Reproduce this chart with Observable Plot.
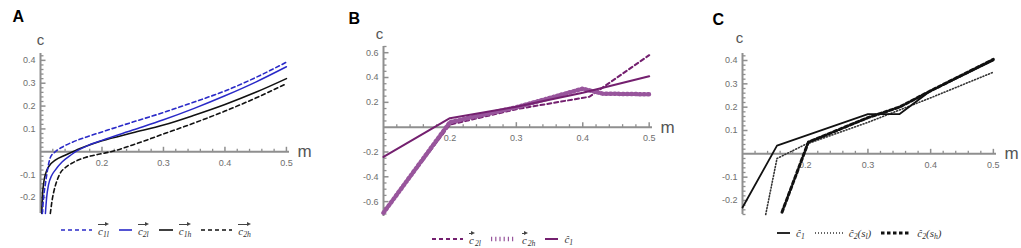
<!DOCTYPE html>
<html><head><meta charset="utf-8">
<script src="https://cdn.jsdelivr.net/npm/d3@7"></script>
<script src="https://cdn.jsdelivr.net/npm/@observablehq/plot@0.6"></script>
<style>
body{margin:0;background:#fff;width:1021px;height:248px;overflow:hidden;font-family:"Liberation Sans",Arial,sans-serif;position:relative}
.panel{position:absolute;top:0;height:220px;width:341px}
.legend{position:absolute;display:flex;align-items:center;height:14px;font-family:"Liberation Serif",serif;font-size:11px;color:#333;white-space:nowrap}
.legend svg{display:block}
.legend .lab{margin:0 10px 0 6px;font-style:italic}
.legend sub{font-size:70%;vertical-align:-2px;line-height:0}
.vec{position:relative;display:inline-block;padding-top:2px}
.vec::before{content:"";position:absolute;left:0;right:2px;top:1px;border-top:1px solid #444}
.vec::after{content:"";position:absolute;right:0;top:-1px;border-left:4px solid #444;border-top:2.5px solid transparent;border-bottom:2.5px solid transparent}
</style>
</head><body>
<div id="pA" class="panel" style="left:0"></div>
<div id="pB" class="panel" style="left:340px"></div>
<div id="pC" class="panel" style="left:680px"></div>
<div id="legA" class="legend" style="left:61px;top:223px"></div>
<div id="legB" class="legend" style="left:432px;top:232px"></div>
<div id="legC" class="legend" style="left:777px;top:226px"></div>
<script>
// ---------- Panel A data ----------
const mA_c1l = [0.103,0.105,0.108,0.112,0.116,0.124,0.135,0.15,0.175,0.2,0.25,0.3,0.35,0.4,0.45,0.5];
const cA_c1l = [-0.27,-0.2,-0.14,-0.07,-0.025,0.0,0.02,0.04,0.065,0.087,0.13,0.172,0.218,0.266,0.325,0.392];
const mA_c2l = [0.108,0.11,0.113,0.118,0.124,0.135,0.15,0.16,0.175,0.2,0.25,0.3,0.35,0.4,0.45,0.5];
const cA_c2l = [-0.27,-0.2,-0.145,-0.105,-0.08,-0.045,-0.013,0.005,0.025,0.05,0.095,0.14,0.19,0.245,0.305,0.372];
const mA_c1h = [0.102,0.103,0.105,0.109,0.113,0.124,0.14,0.157,0.175,0.2,0.25,0.3,0.35,0.4,0.45,0.5];
const cA_c1h = [-0.27,-0.2,-0.14,-0.09,-0.066,-0.037,-0.015,0.006,0.025,0.048,0.083,0.117,0.16,0.207,0.26,0.32];
const mA_c2h = [0.116,0.119,0.122,0.127,0.132,0.14,0.151,0.173,0.2,0.214,0.25,0.3,0.35,0.4,0.45,0.5];
const cA_c2h = [-0.27,-0.21,-0.17,-0.125,-0.094,-0.07,-0.05,-0.025,-0.008,0.0,0.03,0.078,0.126,0.178,0.235,0.298];
// ---------- Panel B data ----------
const mB_c2l = [0.1,0.2,0.3,0.41,0.5];
const cB_c2l = [-0.69,0.02,0.145,0.245,0.58];
const mB_c2h = [0.1,0.2,0.3,0.4,0.43,0.5];
const cB_c2h = [-0.69,0.04,0.16,0.31,0.27,0.265];
const mB_c1 = [0.1,0.2,0.3,0.4,0.5];
const cB_c1 = [-0.24,0.072,0.165,0.278,0.41];
// ---------- Panel C data ----------
const mC_c1 = [0.1,0.155,0.3,0.35,0.4,0.5];
const cC_c1 = [-0.23,0.035,0.17,0.17,0.27,0.4];
const mC_c2sl = [0.137,0.155,0.2,0.3,0.4,0.5];
const cC_c2sl = [-0.26,-0.02,0.04,0.135,0.24,0.35];
const mC_c2sh = [0.163,0.205,0.3,0.35,0.4,0.5];
const cC_c2sh = [-0.25,0.05,0.155,0.2,0.27,0.405];
// ---------- tick labels ----------
const xMajor = [0.2,0.3,0.4,0.5];
const yMajorA = [-0.2,-0.1,0.1,0.2,0.3,0.4];
const yMajorB = [-0.6,-0.4,-0.2,0.2,0.4,0.6];
const yMajorC = [-0.2,-0.1,0.1,0.2,0.3,0.4];

const axisColor = "#8f8f8f", labelColor = "#6e6e6e";
const blue = "#2a2ac8", black = "#111111", purple = "#74206f", purpleLight = "#98559c";

const xMinor = d3.range(6, 26).filter(i => i % 5 !== 0).map(i => i * 0.02);
const yMinor02 = d3.range(-13, 22).filter(i => i % 5 !== 0).map(i => i * 0.02);
const yMinorB = d3.range(-14, 14).filter(i => i % 4 !== 0).map(i => i * 0.05);

const tickUp = {draw(ctx, size){const l = Math.sqrt(size/Math.PI); ctx.moveTo(0,0); ctx.lineTo(0,-l);}};
const tickRight = {draw(ctx, size){const l = Math.sqrt(size/Math.PI); ctx.moveTo(0,0); ctx.lineTo(l,0);}};
const rows = (m, c) => m.map((v, i) => ({m: v, c: c[i]}));
const fmt = d => d.toFixed(1);

function makePanel(o) {
  const x0 = o.xDomain[0];
  const ax = {stroke: axisColor};
  return Plot.plot({
    width: o.width, height: 220,
    marginLeft: o.ml, marginRight: o.mr, marginTop: o.mt, marginBottom: o.mb,
    x: {domain: o.xDomain, axis: null},
    y: {domain: o.yDomain, axis: null},
    style: {fontFamily: "'Liberation Sans', Arial, sans-serif", maxWidth: "none"},
    marks: [
      Plot.ruleY([0], {y: d => d, ...ax, strokeWidth: 2}),
      Plot.ruleX([x0], {x: d => d, ...ax, strokeWidth: 2}),
      Plot.dot(xMinor, {x: d => d, y: 0, symbol: tickUp, r: 3, ...ax, fill: "none", strokeWidth: 1.3}),
      Plot.dot(xMajor, {x: d => d, y: 0, symbol: tickUp, r: 5, ...ax, fill: "none", strokeWidth: 1.5}),
      Plot.dot(o.yMinor, {x: x0, y: d => d, symbol: tickRight, r: 3, ...ax, fill: "none", strokeWidth: 1.3}),
      Plot.dot(o.yMajor, {x: x0, y: d => d, symbol: tickRight, r: 5, ...ax, fill: "none", strokeWidth: 1.5}),
      Plot.text(xMajor, {x: d => d, y: 0, text: fmt, dy: 11, fill: labelColor, fontSize: 9}),
      Plot.text(o.yMajor, {x: x0, y: d => d, text: fmt, dx: -5, textAnchor: "end", fill: labelColor, fontSize: 9}),
      Plot.text(["c"], {x: x0, text: d => d, frameAnchor: "top", lineAnchor: "bottom", dx: o.cdx, dy: o.cdy, fill: "#555", fontSize: 15}),
      Plot.text(["m"], {y: 0, text: d => d, frameAnchor: "right", textAnchor: "start", dx: 8, fill: "#555", fontSize: 17}),
      Plot.text([o.letter], {text: d => d, frameAnchor: "top-left", textAnchor: "start", lineAnchor: "top", dx: o.ldx, dy: o.ldy, fill: "#000", fontSize: 16, fontWeight: "bold"}),
      ...o.lines
    ]
  });
}

const plotA = makePanel({
  width: 340, ml: 40, mr: 51, mt: 53, mb: 7,
  xDomain: [0.1, 0.505], yDomain: [-0.27, 0.43],
  yMajor: yMajorA, yMinor: yMinor02, letter: "A", ldx: -28, ldy: -43, cdx: 0, cdy: -9,
  lines: [
    Plot.line(rows(mA_c2h, cA_c2h), {x: "m", y: "c", stroke: black, strokeWidth: 1.6, strokeDasharray: "4,3", curve: "monotone-x"}),
    Plot.line(rows(mA_c1h, cA_c1h), {x: "m", y: "c", stroke: black, strokeWidth: 1.6, curve: "monotone-x"}),
    Plot.line(rows(mA_c2l, cA_c2l), {x: "m", y: "c", stroke: blue, strokeWidth: 1.5, curve: "monotone-x"}),
    Plot.line(rows(mA_c1l, cA_c1l), {x: "m", y: "c", stroke: blue, strokeWidth: 1.6, strokeDasharray: "4,3", curve: "monotone-x"})
  ]
});
const plotB = makePanel({
  width: 340, ml: 43, mr: 28, mt: 46, mb: 4,
  xDomain: [0.1, 0.505], yDomain: [-0.72, 0.65],
  yMajor: yMajorB, yMinor: yMinorB, letter: "B", ldx: -35, ldy: -34, cdx: -4, cdy: -8,
  lines: [
    Plot.line(rows(mB_c2l, cB_c2l), {x: "m", y: "c", stroke: purple, strokeWidth: 2, strokeDasharray: "4,3"}),
    Plot.line(rows(mB_c2h, cB_c2h), {x: "m", y: "c", stroke: purpleLight, strokeWidth: 4.5, strokeDasharray: "1.2,3"}),
    Plot.line(rows(mB_c1, cB_c1), {x: "m", y: "c", stroke: purple, strokeWidth: 2})
  ]
});
const plotC = makePanel({
  width: 341, ml: 62, mr: 25, mt: 53, mb: 6,
  xDomain: [0.1, 0.505], yDomain: [-0.26, 0.43],
  yMajor: yMajorC, yMinor: yMinor02, letter: "C", ldx: -30, ldy: -40, cdx: -3, cdy: -11,
  lines: [
    Plot.line(rows(mC_c2sl, cC_c2sl), {x: "m", y: "c", stroke: "#333", strokeWidth: 1.6, strokeDasharray: "1,2"}),
    Plot.line(rows(mC_c2sh, cC_c2sh), {x: "m", y: "c", stroke: black, strokeWidth: 3, strokeDasharray: "3.5,2.5"}),
    Plot.line(rows(mC_c1, cC_c1), {x: "m", y: "c", stroke: black, strokeWidth: 1.8})
  ]
});
document.getElementById("pA").append(plotA);
document.getElementById("pB").append(plotB);
document.getElementById("pC").append(plotC);

// ---------- legends ----------
function swatch(w, stroke, sw, dash) {
  return `<svg width="${w}" height="10"><line x1="0" y1="5" x2="${w}" y2="5" stroke="${stroke}" stroke-width="${sw}" ${dash ? `stroke-dasharray="${dash}"` : ""}/></svg>`;
}
const legA = [
  [swatch(31, blue, 1.6, "4,3"), `<span class="vec">c<sub>1l</sub></span>`],
  [swatch(13, blue, 1.6), `<span class="vec">c<sub>2l</sub></span>`],
  [swatch(14, black, 1.6), `<span class="vec">c<sub>1h</sub></span>`],
  [swatch(31, black, 1.6, "4,3"), `<span class="vec">c<sub>2h</sub></span>`]
];
const legB = [
  [swatch(31, purple, 2, "4,3"), `<span class="vec" style="padding-right:1px">c</span><sub>2l</sub>`],
  [swatch(25, purpleLight, 4.5, "1.2,3"), `<span class="vec" style="padding-right:1px">c</span><sub>2h</sub>`],
  [swatch(13, purple, 2), `<span>ĉ</span><sub>1</sub>`]
];
const legC = [
  [swatch(13, black, 1.8), `ĉ<sub>1</sub>`],
  [swatch(28, "#333", 1.6, "1,2"), `ĉ<sub>2</sub>(s<sub>l</sub>)`],
  [swatch(30, black, 3, "3.5,2.5"), `ĉ<sub>2</sub>(s<sub>h</sub>)`]
];
function fill(id, items) {
  document.getElementById(id).innerHTML = items.map(([s, l]) => `${s}<span class="lab">${l}</span>`).join("");
}
fill("legA", legA); fill("legB", legB); fill("legC", legC);
</script>
</body></html>
